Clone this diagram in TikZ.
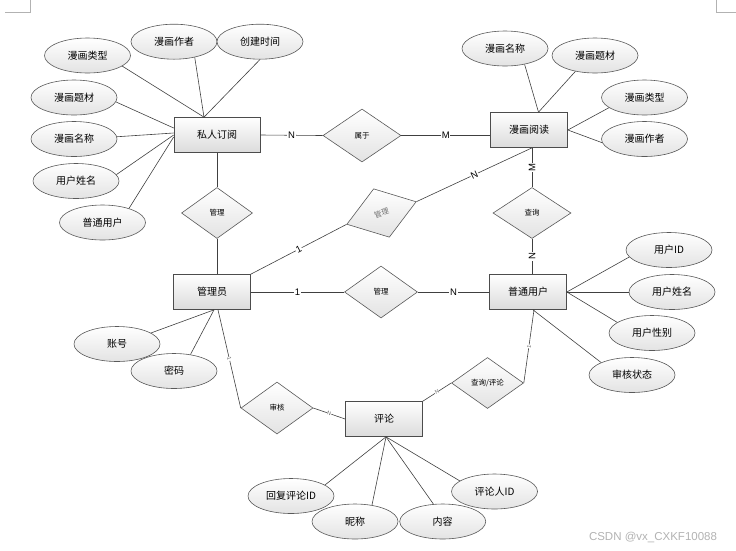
\documentclass[tikz,border=0pt]{standalone}
\usepackage{fontspec}
\setmainfont{Liberation Sans}
\newfontfamily\cjk{Noto Sans CJK SC}
\usetikzlibrary{shapes.geometric,calc}
\begin{document}
\begin{tikzpicture}[x=1pt,y=-1pt,
  ent/.style={draw=black!70,line width=0.7pt,top color=white,bottom color=black!14,minimum width=77pt,minimum height=35pt,inner sep=0pt,font=\cjk\fontsize{10}{12}\selectfont},
  attr/.style={ellipse,draw=black!65,line width=0.6pt,top color=white,bottom color=black!11,minimum width=86pt,minimum height=35pt,inner sep=0pt,font=\cjk\fontsize{10}{12}\selectfont},
  rel/.style={diamond,draw=black!65,line width=0.6pt,top color=white,bottom color=black!11,minimum width=72pt,minimum height=51pt,inner sep=0pt,font=\cjk\fontsize{7.5}{9}\selectfont},
  conn/.style={draw=black!75,line width=0.6pt},
  lab/.style={font=\fontsize{9.5}{10}\selectfont,fill=white,inner sep=0.6pt},
  slab/.style={font=\fontsize{5.5}{6}\selectfont,text=black!60,fill=white,inner sep=0.3pt},
  cornermark/.style={draw=black!30,line width=0.5pt}
]
\useasboundingbox (0,0) rectangle (736,550);

% page corner marks
\coordinate (cl1) at (5,12.3);
\coordinate (cl2) at (30.7,12.3);
\coordinate (cl3) at (30.7,0);
\coordinate (cr1) at (736,12.3);
\coordinate (cr2) at (716.7,12.3);
\coordinate (cr3) at (716.7,0);
\draw[cornermark] (cl1) -- (cl2) -- (cl3);
\draw[cornermark] (cr1) -- (cr2) -- (cr3);

% entities
\node[ent,minimum width=86pt] (sr) at (217,135) {私人订阅};
\node[ent] (mh) at (529,130) {漫画阅读};
\node[ent] (gly) at (212,292) {管理员};
\node[ent] (pt) at (528,292) {普通用户};
\node[ent] (pl) at (384,419) {评论};

% relationships
\node[rel,minimum width=78pt,minimum height=53pt] (sy) at (362,135.5) {属于};
\node[rel,minimum width=71pt] (gl1) at (217,213) {管理};
\node[rel,minimum width=73pt,rotate=18,text=black!55] (gl2) at (381.5,213) {管理};
\node[rel,minimum width=73pt,minimum height=52pt] (gl3) at (381,292) {管理};
\node[rel,minimum width=78pt] (cx) at (532,213) {查询};
\node[rel,minimum height=52pt] (sh) at (277,408) {审核};
\node[rel] (cp) at (487.5,383) {查询/评论};

% attributes of 私人订阅
\node[attr] (a1) at (87.5,55.5) {漫画类型};
\node[attr] (a2) at (174,41.7) {漫画作者};
\node[attr] (a3) at (260,41.7) {创建时间};
\node[attr] (a4) at (74,97.5) {漫画题材};
\node[attr] (a5) at (74,139) {漫画名称};
\node[attr] (a6) at (76,181) {用户姓名};
\node[attr] (a7) at (102.5,222.5) {普通用户};
% attributes of 漫画阅读
\node[attr] (b1) at (505,48.5) {漫画名称};
\node[attr] (b2) at (595,55.5) {漫画题材};
\node[attr] (b3) at (644.5,97.5) {漫画类型};
\node[attr] (b4) at (644.5,139) {漫画作者};
% attributes of 管理员
\node[attr] (c1) at (117,344) {账号};
\node[attr] (c2) at (174,371) {密码};
% attributes of 普通用户
\node[attr] (d1) at (669,250) {用户ID};
\node[attr] (d2) at (672,292) {用户姓名};
\node[attr] (d3) at (652,333) {用户性别};
\node[attr] (d4) at (632,375) {审核状态};
% attributes of 评论
\node[attr] (e1) at (291,496) {回复评论ID};
\node[attr] (e2) at (355,521.5) {昵称};
\node[attr] (e3) at (442.7,521.5) {内容};
\node[attr] (e4) at (494.5,491.5) {评论人ID};

% attribute connectors
\draw[conn] (a1.-17) -- ([xshift=-13pt]sr.north);
\draw[conn] (a2.-37) -- ([xshift=-13pt]sr.north);
\draw[conn] (a3.south) -- ([xshift=-13pt]sr.north);
\draw[conn] (a4.-6) -- ([yshift=7pt]sr.west);
\draw[conn] (a5.3) -- ([yshift=2pt]sr.west);
\draw[conn] (a6.9) -- (sr.west);
\draw[conn] (a7.28) -- ([yshift=-2pt]sr.west);

\draw[conn] (b1.-39) -- ([xshift=9.5pt]mh.north);
\draw[conn] (b2.-141) -- ([xshift=9.5pt]mh.north);
\draw[conn] (b3.-164) -- (mh.east);
\draw[conn] (b4.-175) -- (mh.east);

\draw[conn] (c1.18) -- ([xshift=2pt]gly.south);
\draw[conn] (c2.45) -- ([xshift=2pt]gly.south);

\draw[conn] (d1.-170) -- (pt.east);
\draw[conn] (d2.west) -- (pt.east);
\draw[conn] (d3.163) -- (pt.east);
\draw[conn] (d4.158) -- ([xshift=5pt]pt.south);

\draw[conn] (e1.18) -- ([xshift=2pt]pl.south);
\draw[conn] (e2.44) -- ([xshift=2pt]pl.south);
\draw[conn] (e3.118) -- ([xshift=2pt]pl.south);
\draw[conn] (e4.163) -- ([xshift=2pt]pl.south);

% relationship connectors
\draw[conn] (sr.east) -- node[lab]{N} (sy.west);
\draw[conn] (sy.east) -- node[lab]{M} (sy.east -| mh.west);
\draw[conn] (gl2.east) -- node[lab,sloped]{N} (cx.north |- mh.south);
\draw[conn] (gly.north east) -- node[lab,sloped]{1} (gl2.west);
\draw[conn] (gly.east) -- node[lab]{1} (gl3.west);
\draw[conn] (gl3.east) -- node[lab]{N} (pt.west);
\draw[conn] (cx.north |- mh.south) -- node[lab,rotate=90]{M} (cx.north);
\draw[conn] (cx.south) -- node[lab,rotate=90]{N} (cx.south |- pt.north);
\draw[conn] (sr.south) -- (gl1.north);
\draw[conn] (gl1.south) -- (gl1.south |- gly.north);
\draw[conn] ([xshift=6pt]gly.south) -- node[slab,sloped]{1} (sh.west);
\draw[conn] (sh.east) -- node[slab,sloped]{N} (pl.west);
\draw[conn] ([xshift=6pt]pt.south) -- node[slab,sloped]{1} (cp.east);
\draw[conn] (cp.west) -- node[slab,sloped]{N} (pl.north east);

% watermark
\node[font=\fontsize{11.5}{13}\selectfont,text=black!30] (wm) at (653,537) {CSDN @vx\_CXKF10088};
\end{tikzpicture}
\end{document}
